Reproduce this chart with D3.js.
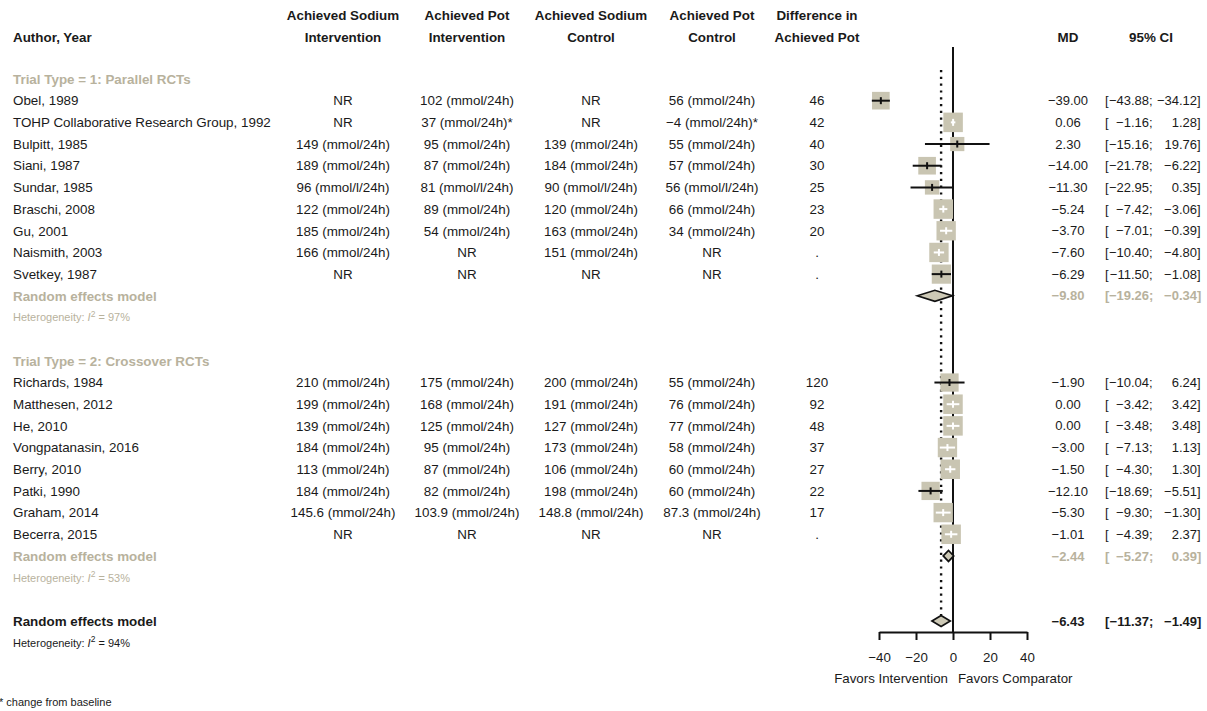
<!DOCTYPE html>
<html><head><meta charset="utf-8">
<script src="https://cdn.jsdelivr.net/npm/d3@7"></script>
<style>
body{margin:0;background:#fff}
svg{display:block;font-family:"Liberation Sans",Arial,Helvetica,sans-serif}
</style>
</head><body><svg id="c" width="1207" height="711"></svg>
<script>
// ---------- data ----------
const studies = ["Obel, 1989","TOHP Collaborative Research Group, 1992","Bulpitt, 1985","Siani, 1987","Sundar, 1985","Braschi, 2008","Gu, 2001","Naismith, 2003","Svetkey, 1987",
  "Richards, 1984","Matthesen, 2012","He, 2010","Vongpatanasin, 2016","Berry, 2010","Patki, 1990","Graham, 2014","Becerra, 2015"];
const trialType = [1,1,1,1,1,1,1,1,1, 2,2,2,2,2,2,2,2];
const sodiumInt = ["NR","NR","149 (mmol/24h)","189 (mmol/24h)","96 (mmol/l/24h)","122 (mmol/24h)","185 (mmol/24h)","166 (mmol/24h)","NR",
  "210 (mmol/24h)","199 (mmol/24h)","139 (mmol/24h)","184 (mmol/24h)","113 (mmol/24h)","184 (mmol/24h)","145.6 (mmol/24h)","NR"];
const potInt = ["102 (mmol/24h)","37 (mmol/24h)*","95 (mmol/24h)","87 (mmol/24h)","81 (mmol/l/24h)","89 (mmol/24h)","54 (mmol/24h)","NR","NR",
  "175 (mmol/24h)","168 (mmol/24h)","125 (mmol/24h)","95 (mmol/24h)","87 (mmol/24h)","82 (mmol/24h)","103.9 (mmol/24h)","NR"];
const sodiumCtl = ["NR","NR","139 (mmol/24h)","184 (mmol/24h)","90 (mmol/l/24h)","120 (mmol/24h)","163 (mmol/24h)","151 (mmol/24h)","NR",
  "200 (mmol/24h)","191 (mmol/24h)","127 (mmol/24h)","173 (mmol/24h)","106 (mmol/24h)","198 (mmol/24h)","148.8 (mmol/24h)","NR"];
const potCtl = ["56 (mmol/24h)","\u22124 (mmol/24h)*","55 (mmol/24h)","57 (mmol/24h)","56 (mmol/l/24h)","66 (mmol/24h)","34 (mmol/24h)","NR","NR",
  "55 (mmol/24h)","76 (mmol/24h)","77 (mmol/24h)","58 (mmol/24h)","60 (mmol/24h)","60 (mmol/24h)","87.3 (mmol/24h)","NR"];
const diffPot = ["46","42","40","30","25","23","20",".",".", "120","92","48","37","27","22","17","."];
const md    = [-39.00, 0.06, 2.30, -14.00, -11.30, -5.24, -3.70, -7.60, -6.29,  -1.90, 0.00, 0.00, -3.00, -1.50, -12.10, -5.30, -1.01];
const lower = [-43.88, -1.16, -15.16, -21.78, -22.95, -7.42, -7.01, -10.40, -11.50,  -10.04, -3.42, -3.48, -7.13, -4.30, -18.69, -9.30, -4.39];
const upper = [-34.12, 1.28, 19.76, -6.22, 0.35, -3.06, -0.39, -4.80, -1.08,  6.24, 3.42, 3.48, 1.13, 1.30, -5.51, -1.30, 2.37];
const weight = [5.4, 6.6, 3.5, 5.4, 3.6, 6.6, 6.5, 6.5, 6.4,  5.8, 6.6, 6.6, 6.5, 6.6, 5.8, 6.5, 6.6];
const groupLabels = ["Trial Type = 1: Parallel RCTs","Trial Type = 2: Crossover RCTs"];
const subMd = [-9.80, -2.44];
const subLower = [-19.26, -5.27];
const subUpper = [-0.34, 0.39];
const subI2 = [97, 53];
const allMd = -6.43, allLower = -11.37, allUpper = -1.49, allI2 = 94;
const xTicks = [-40, -20, 0, 20, 40];
const colHeaders = [["Achieved Sodium","Intervention"],["Achieved Pot","Intervention"],["Achieved Sodium","Control"],["Achieved Pot","Control"],["Difference in","Achieved Pot"]];
const colData = [sodiumInt, potInt, sodiumCtl, potCtl, diffPot];

// ---------- layout ----------
const dark = "#1a1a1a", tan = "#b8b29d", boxFill = "#c9c5b2", diaFill = "#cdc9b6";
const svg = d3.select("#c");
svg.append("rect").attr("width",1207).attr("height",711).attr("fill","#fff");
const x = d3.scaleLinear().domain([-40,40]).range([879,1027]);
const y = d3.scaleLinear().domain([0,25]).range([79,621]);
const boxSize = d3.scaleSqrt().domain([0, d3.max(weight)]).range([0,19.5]);
const colX = [343, 467, 591, 712, 817];
const mdX = 1068;
const f2 = d3.format(".2f");
const FS = 13.4;
const NS = 13;

function txt(xp, yc, s, opt={}) {
  return svg.append("text").attr("x",xp).attr("y",yc + (opt.size||FS)*0.355)
    .attr("font-size",opt.size||FS).attr("font-weight",opt.bold?"bold":"normal")
    .attr("fill",opt.color||dark).attr("text-anchor",opt.anchor||"start").text(s);
}
function ciText(yc, lo, hi, opt) {
  const o = Object.assign({size:NS}, opt);
  txt(1105, yc, "[", o);
  txt(1149, yc, f2(lo), Object.assign({anchor:"end"}, o));
  txt(1149, yc, ";", o);
  txt(1197, yc, f2(hi), Object.assign({anchor:"end"}, o));
  txt(1197, yc, "]", o);
}
function hetText(yc, i2, color) {
  const t = svg.append("text").attr("x",13).attr("y",yc+3.9).attr("font-size",11).attr("fill",color);
  t.append("tspan").text("Heterogeneity: ");
  t.append("tspan").attr("font-style","italic").text("I");
  t.append("tspan").attr("font-size",8.5).attr("dy",-4.5).text("2");
  t.append("tspan").attr("dy",4.5).text(" = " + i2 + "%");
}

// headers
txt(13, 37, "Author, Year", {bold:true});
colHeaders.forEach((h,k) => { txt(colX[k], 15, h[0], {bold:true, anchor:"middle"}); txt(colX[k], 37, h[1], {bold:true, anchor:"middle"}); });
txt(mdX, 37, "MD", {bold:true, anchor:"middle"});
txt(1151, 37, "95% CI", {bold:true, anchor:"middle"});

// rows
let rows = [], r = 0;
groupLabels.forEach((lab, g) => {
  rows.push({type:"group", g, r:r++});
  studies.forEach((s,i) => { if (trialType[i] === g+1) rows.push({type:"study", i, r:r++}); });
  rows.push({type:"sub", g, r:r++});
  rows.push({type:"het", g, r:r++});
  r++;
});
rows.push({type:"overall", r:r++});
rows.push({type:"hetAll", r:r++});

// reference lines
const plotG = svg.append("g");
plotG.append("line").attr("x1",x(0)).attr("x2",x(0)).attr("y1",47).attr("y2",632).attr("stroke","#111").attr("stroke-width",2);
plotG.append("line").attr("x1",x(allMd)).attr("x2",x(allMd)).attr("y1",70).attr("y2",y(25)-6)
  .attr("stroke","#111").attr("stroke-width",2.4).attr("stroke-dasharray","2.2,4.6");

function diamond(yc, m, lo, hi, h) {
  const p = [[x(lo),yc],[x(m),yc-h],[x(hi),yc],[x(m),yc+h]];
  svg.append("path").attr("d","M"+p.join("L")+"Z").attr("fill",diaFill).attr("stroke","#111").attr("stroke-width",1.7);
}

rows.forEach(row => {
  const yc = y(row.r);
  if (row.type === "group") {
    txt(13, yc, groupLabels[row.g], {bold:true, color:tan});
  } else if (row.type === "study") {
    const i = row.i;
    txt(13, yc, studies[i]);
    colData.forEach((col,k) => txt(colX[k], yc, col[i], {anchor:"middle"}));
    const s = boxSize(weight[i]);
    svg.append("rect").attr("x",x(md[i])-s/2).attr("y",yc-s/2).attr("width",s).attr("height",s).attr("fill",boxFill);
    const inside = (x(upper[i]) - x(lower[i])) < s;
    const lc = inside ? "#fff" : "#111";
    svg.append("line").attr("x1",x(lower[i])).attr("x2",x(upper[i])).attr("y1",yc).attr("y2",yc).attr("stroke",lc).attr("stroke-width",2);
    svg.append("line").attr("x1",x(md[i])).attr("x2",x(md[i])).attr("y1",yc-3.5).attr("y2",yc+3.5).attr("stroke",lc).attr("stroke-width",2);
    txt(mdX, yc, f2(md[i]), {anchor:"middle", size:NS});
    ciText(yc, lower[i], upper[i], {});
  } else if (row.type === "sub") {
    txt(13, yc, "Random effects model", {bold:true, color:tan});
    diamond(yc, subMd[row.g], subLower[row.g], subUpper[row.g], 5.5);
    txt(mdX, yc, f2(subMd[row.g]), {anchor:"middle", color:tan, bold:true, size:NS});
    ciText(yc, subLower[row.g], subUpper[row.g], {color:tan, bold:true});
  } else if (row.type === "het") {
    hetText(yc, subI2[row.g], tan);
  } else if (row.type === "overall") {
    txt(13, yc, "Random effects model", {bold:true});
    diamond(yc, allMd, allLower, allUpper, 5.5);
    txt(mdX, yc, f2(allMd), {anchor:"middle", bold:true, size:NS});
    ciText(yc, allLower, allUpper, {bold:true});
  } else if (row.type === "hetAll") {
    hetText(yc, allI2, dark);
  }
});

// axis
const axis = d3.axisBottom(x).tickValues(xTicks).tickSize(8).tickSizeOuter(0).tickPadding(13).tickFormat(d3.format("d"));
const ag = svg.append("g").attr("transform","translate(0,632)").call(axis);
ag.select(".domain").attr("stroke","#111").attr("stroke-width",2);
ag.selectAll(".tick line").attr("stroke","#111").attr("stroke-width",2);
ag.selectAll(".tick text").attr("font-size",13.3).attr("fill",dark).attr("font-family",null);
txt(948, 678, "Favors Intervention", {anchor:"end", size:13.3});
txt(958, 678, "Favors Comparator", {size:13.3});

// footnote
txt(-1, 702, "* change from baseline", {size:11});
</script>
</body></html>
